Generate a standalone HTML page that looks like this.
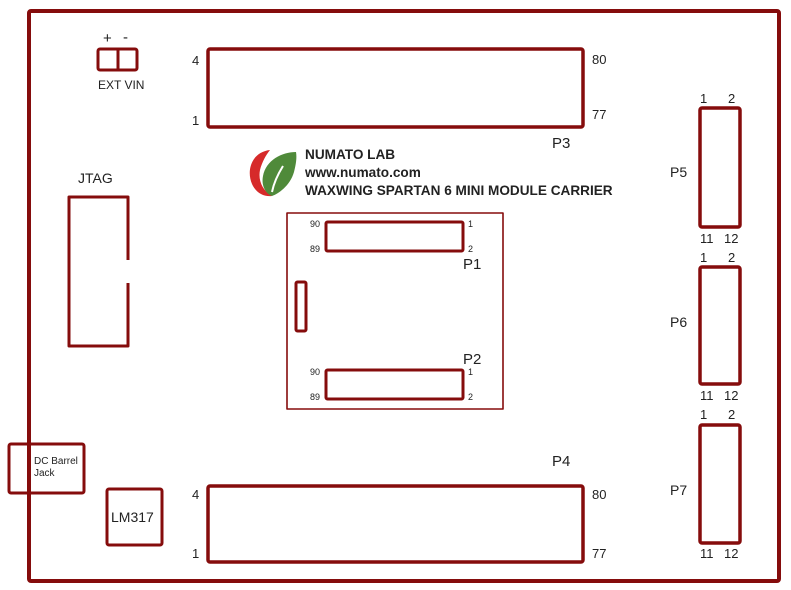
<!DOCTYPE html>
<html><head><meta charset="utf-8"><style>
html,body{margin:0;padding:0;background:#fff}
svg{display:block}
text{font-family:"Liberation Sans",sans-serif;fill:#222}
</style></head><body>
<svg width="791" height="590" viewBox="0 0 791 590" xmlns="http://www.w3.org/2000/svg">
<g fill="none" stroke="#850c0c" stroke-linejoin="round">
<rect x="29" y="11" width="750" height="570" stroke-width="4" rx="2"/>
<rect x="98" y="49" width="39" height="21" stroke-width="3" rx="2"/>
<line x1="118" y1="49" x2="118" y2="70" stroke-width="3"/>
<rect x="208" y="49" width="375" height="78" stroke-width="3.5" rx="2"/>
<rect x="208" y="486" width="375" height="76" stroke-width="3.5" rx="2"/>
<polyline points="128,260 128,197 69,197 69,346 128,346 128,283" stroke-width="3"/>
<rect x="287" y="213" width="216" height="196" stroke-width="1.6"/>
<rect x="326" y="222" width="137" height="29" stroke-width="3" rx="1.5"/>
<rect x="326" y="370" width="137" height="29" stroke-width="3" rx="1.5"/>
<rect x="296" y="282" width="10" height="49" stroke-width="3" rx="1.5"/>
<rect x="9" y="444" width="75" height="49" stroke-width="3" rx="2"/>
<rect x="107" y="489" width="55" height="56" stroke-width="3" rx="2"/>
<rect x="700" y="108" width="40" height="119" stroke-width="3.5" rx="2"/>
<rect x="700" y="267" width="40" height="117" stroke-width="3.5" rx="2"/>
<rect x="700" y="425" width="40" height="118" stroke-width="3.5" rx="2"/>
</g>
<!-- logo -->
<path d="M270 150 C252 152 246 170 252 184 C256 193 264 197 272 196 C262 190 258 180 260 170 C262 162 266 155 270 150 Z" fill="#d62a2a"/>
<path d="M296 152 C282 152 266 160 263 176 C261 186 266 194 272 196 C278 194 290 186 294 172 C296 164 297 158 296 152 Z" fill="#4f8a3a"/>
<path d="M283 166 C278 174 274 182 272 192" stroke="#fff" stroke-width="2" fill="none"/>
<g font-size="13">
<text x="103" y="43" font-size="15">+</text>
<text x="123" y="42" font-size="15">-</text>
<text x="98" y="89" font-size="12">EXT VIN</text>
<text x="192" y="65">4</text>
<text x="192" y="125">1</text>
<text x="592" y="64">80</text>
<text x="592" y="119">77</text>
<text x="552" y="148" font-size="15">P3</text>
<text x="192" y="499">4</text>
<text x="192" y="558">1</text>
<text x="592" y="499">80</text>
<text x="592" y="558">77</text>
<text x="552" y="466" font-size="15">P4</text>
<text x="78" y="183" font-size="14">JTAG</text>
<text x="111" y="522" font-size="14">LM317</text>
<text x="34" y="464" font-size="10">DC Barrel</text>
<text x="34" y="476" font-size="10">Jack</text>
<text x="670" y="177" font-size="14">P5</text>
<text x="670" y="327" font-size="14">P6</text>
<text x="670" y="495" font-size="14">P7</text>
<text x="700" y="103">1</text><text x="728" y="103">2</text>
<text x="700" y="243">11</text><text x="724" y="243">12</text>
<text x="700" y="262">1</text><text x="728" y="262">2</text>
<text x="700" y="400">11</text><text x="724" y="400">12</text>
<text x="700" y="419">1</text><text x="728" y="419">2</text>
<text x="700" y="558">11</text><text x="724" y="558">12</text>
</g>
<g font-size="9">
<text x="310" y="227">90</text><text x="310" y="252">89</text>
<text x="468" y="227">1</text><text x="468" y="252">2</text>
<text x="310" y="375">90</text><text x="310" y="400">89</text>
<text x="468" y="375">1</text><text x="468" y="400">2</text>
</g>
<text x="463" y="269" font-size="15">P1</text>
<text x="463" y="364" font-size="15">P2</text>
<g font-size="13.6" font-weight="bold">
<text x="305" y="159">NUMATO LAB</text>
<text x="305" y="177">www.numato.com</text>
<text x="305" y="195">WAXWING SPARTAN 6 MINI MODULE CARRIER</text>
</g>
</svg>
</body></html>
